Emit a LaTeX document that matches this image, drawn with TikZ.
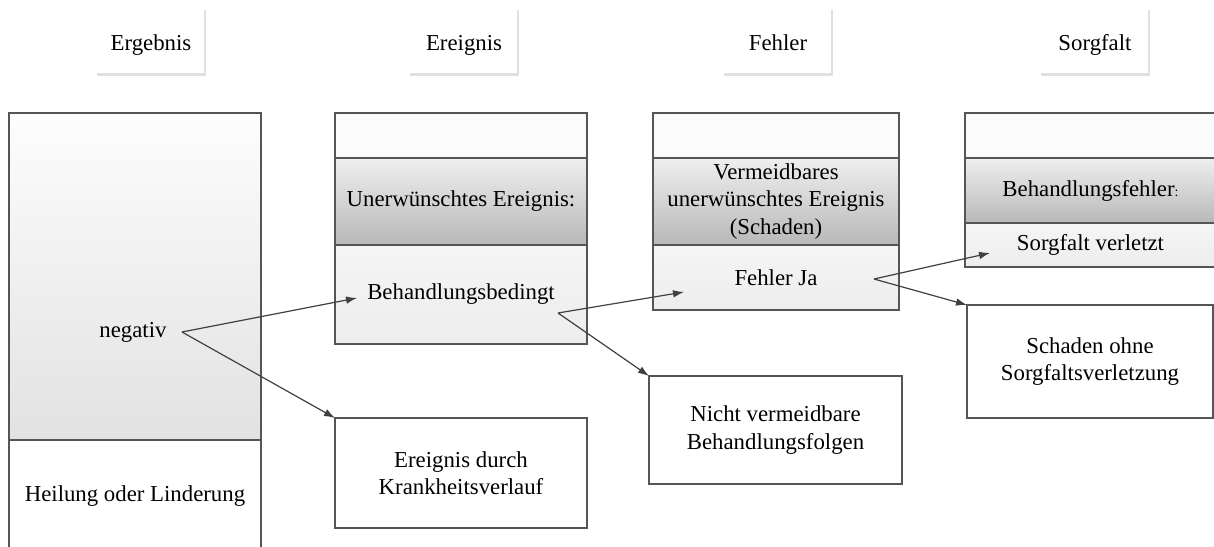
\documentclass[tikz,border=0pt]{standalone}
\usepackage{fontspec}
\setmainfont{Liberation Serif}
\usetikzlibrary{arrows.meta, positioning}
\definecolor{frame}{HTML}{555555}
\definecolor{arrowgray}{HTML}{404040}
\definecolor{topfill}{HTML}{FBFBFB}
\definecolor{bandtop}{HTML}{EFEFEF}
\definecolor{bandbot}{HTML}{B8B8B8}
\definecolor{lowtop}{HTML}{F5F5F5}
\definecolor{lowbot}{HTML}{EDEDED}
\definecolor{bigtop}{HTML}{FDFDFD}
\definecolor{bigbot}{HTML}{E2E2E2}

\begin{document}
\begin{tikzpicture}[x=0.5pt, y=-0.5pt, >={Latex[length=5.5pt,width=3.8pt]}, line/.style={draw=arrowgray, line width=0.6pt}, headshadow/.style={draw=black!12, line width=1.1pt}, every node/.style={font=\fontsize{11.4}{13.8}\selectfont}]
% Define styles for cells, boxes and headers
\tikzstyle{cell} = [draw=frame, line width=0.7pt, rectangle, inner sep=0pt, outer sep=0pt, align=center]
\tikzstyle{toprow} = [cell, fill=topfill]
\tikzstyle{band} = [cell, top color=bandtop, bottom color=bandbot]
\tikzstyle{lowrow} = [cell, top color=lowtop, bottom color=lowbot]
\tikzstyle{box} = [cell, fill=white]
\tikzstyle{header} = [rectangle, minimum width=53.5pt, minimum height=32pt, inner sep=0pt, text height=9pt, text depth=0.5pt]

\useasboundingbox (0,0) rectangle (1214,546);
\clip (0,0) rectangle (1214,546);

% Headers
\node [header] (hErgebnis) at (151,42) {Ergebnis};
\node [header] (hEreignis) at (464,42) {Ereignis};
\node [header] (hFehler) at (778,42) {Fehler};
\node [header] (hSorgfalt) at (1095,42) {Sorgfalt};
\draw[headshadow] (hErgebnis.north east) -- (hErgebnis.south east) -- (hErgebnis.south west);
\draw[headshadow] (hEreignis.north east) -- (hEreignis.south east) -- (hEreignis.south west);
\draw[headshadow] (hFehler.north east) -- (hFehler.south east) -- (hFehler.south west);
\draw[headshadow] (hSorgfalt.north east) -- (hSorgfalt.south east) -- (hSorgfalt.south west);

% Ergebnis column
\node [cell, top color=bigtop, bottom color=bigbot, minimum width=126pt, minimum height=163.5pt, anchor=north west] (ergebnisTop) at (9,113) {};
\node [box, minimum width=126pt, minimum height=56pt, below=0pt of ergebnisTop] (ergebnisLow) {Heilung oder Linderung};
\node (negativ) at (133,332) {negativ};

% Ereignis column
\node [toprow, minimum width=126pt, minimum height=22.5pt, anchor=north west] (ereignisTop) at (335,113) {};
\node [band, minimum width=126pt, minimum height=43.5pt, below=0pt of ereignisTop] (ereignisBand) {Unerwünschtes Ereignis:};
\node [lowrow, minimum width=126pt, minimum height=49.5pt, below=0pt of ereignisBand] (ereignisLow) {Behandlungsbedingt};
\node [box, minimum width=126pt, minimum height=55pt] (krankheit) at (461,473) {Ereignis durch\\Krankheitsverlauf};

% Fehler column
\node [toprow, minimum width=123pt, minimum height=22.5pt, anchor=north west] (fehlerTop) at (653,113) {};
\node [band, minimum width=123pt, minimum height=43.5pt, below=0pt of fehlerTop] (fehlerBand) {Vermeidbares\\unerwünschtes Ereignis\\(Schaden)};
\node [lowrow, minimum width=123pt, minimum height=32.5pt, below=0pt of fehlerBand] (fehlerLow) {Fehler Ja};
\node [box, minimum width=126.5pt, minimum height=54pt] (nichtVermeidbar) at (775.5,430) {Nicht vermeidbare\\Behandlungsfolgen};

% Sorgfalt column
\node [toprow, minimum width=125.5pt, minimum height=22.5pt, anchor=north west] (sorgfaltTop) at (965,113) {};
\node [band, minimum width=125.5pt, minimum height=32.5pt, below=0pt of sorgfaltTop] (sorgfaltBand) {Behandlungsfehler{\scriptsize :}};
\node [lowrow, minimum width=125.5pt, minimum height=22pt, below=0pt of sorgfaltBand] (sorgfaltLow) {Sorgfalt verletzt};
\node [box, minimum width=123pt, minimum height=56.5pt] (schaden) at (1090,361.5) {Schaden ohne\\Sorgfaltsverletzung};

% Connector ends
\coordinate (negOut) at ([shift={(49,0)}]negativ.center);
\coordinate (bbIn) at ([shift={(22,3.5)}]ereignisLow.west);
\coordinate (bbOut) at ([shift={(-29,18.5)}]ereignisLow.east);
\coordinate (fjIn) at ([shift={(31,14.5)}]fehlerLow.west);
\coordinate (fjOut) at ([shift={(-25,1.5)}]fehlerLow.east);
\coordinate (svIn) at ([shift={(25,8)}]sorgfaltLow.west);

% Draw edges
\draw[line,->] (negOut) -- (bbIn);
\draw[line,->] (negOut) -- (krankheit.north west);
\draw[line,->] (bbOut) -- (fjIn);
\draw[line,->] (bbOut) -- (nichtVermeidbar.north west);
\draw[line,->] (fjOut) -- (svIn);
\draw[line,->] (fjOut) -- (schaden.north west);

\end{tikzpicture}
\end{document}
